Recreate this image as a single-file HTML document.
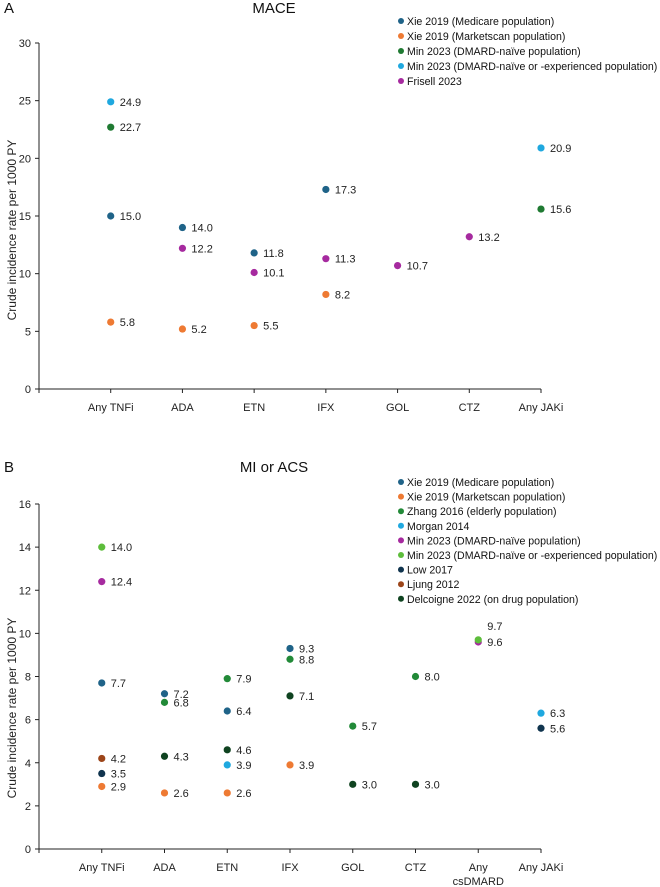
<!DOCTYPE html>
<html><head><meta charset="utf-8"><style>
html,body{margin:0;padding:0;background:#fff;}
svg{display:block;font-family:"Liberation Sans",sans-serif;}
</style></head><body>
<svg id="fig" width="660" height="887" viewBox="0 0 660 887" xmlns="http://www.w3.org/2000/svg"></svg>
<script>
// ---- Panel A data ----
const catsA = ["Any TNFi","ADA","ETN","IFX","GOL","CTZ","Any JAKi"];
const seriesNamesA = ["Xie 2019 (Medicare population)","Xie 2019 (Marketscan population)","Min 2023 (DMARD-naïve population)","Min 2023 (DMARD-naïve or -experienced population)","Frisell 2023"];
const colorsA = ["#1f6388","#ee7a33","#1f7a32","#1fa8df","#a62a9f"];
const xieMedA = [15.0,14.0,11.8,17.3,null,null,null];
const xieMktA = [5.8,5.2,5.5,8.2,null,null,null];
const minNaiveA = [22.7,null,null,null,null,null,15.6];
const minExpA = [24.9,null,null,null,null,null,20.9];
const frisellA = [null,12.2,10.1,11.3,10.7,13.2,null];
const ticksA = [0,5,10,15,20,25,30];

// ---- Panel B data ----
const catsB = ["Any TNFi","ADA","ETN","IFX","GOL","CTZ","Any|csDMARD","Any JAKi"];
const seriesNamesB = ["Xie 2019 (Medicare population)","Xie 2019 (Marketscan population)","Zhang 2016 (elderly population)","Morgan 2014","Min 2023 (DMARD-naïve population)","Min 2023 (DMARD-naïve or -experienced population)","Low 2017","Ljung 2012","Delcoigne 2022 (on drug population)"];
const colorsB = ["#1f6388","#ee7a33","#228a38","#1fa8df","#a62a9f","#5dbd3b","#10344e","#9c4519","#0f4320"];
const xieMedB = [7.7,7.2,6.4,9.3,null,null,null,null];
const xieMktB = [2.9,2.6,2.6,3.9,null,null,null,null];
const zhangB = [null,6.8,7.9,8.8,5.7,8.0,null,null];
const morganB = [null,null,3.9,null,null,null,null,6.3];
const minNaiveB = [12.4,null,null,null,null,null,9.6,null];
const minExpB = [14.0,null,null,null,null,null,9.7,null];
const lowB = [3.5,null,null,null,null,null,null,5.6];
const ljungB = [4.2,null,null,null,null,null,null,null];
const delcoigneB = [null,4.3,4.6,7.1,3.0,3.0,null,null];
const ticksB = [0,2,4,6,8,10,12,14,16];

const NS="http://www.w3.org/2000/svg";
const svg=document.getElementById('fig');
function mk(tag,attrs,parent,text){const e=document.createElementNS(NS,tag);for(const k in attrs)e.setAttribute(k,attrs[k]);if(text!==undefined)e.textContent=text;(parent||svg).appendChild(e);return e;}

function panel(cfg){
  const g=mk('g',{});
  
  
  const x0=39,x1=541;
  const n=cfg.cats.length;
  const step=(x1-x0)/n;
  const xs=i=>x0+(i+1)*step;
  const ys=v=>cfg.y0+(cfg.yTop-cfg.y0)*(v/cfg.yMax);
  // panel letter & title
  const L=mk('text',{x:4,y:cfg.titleY,'font-size':15,fill:'#111'},g,cfg.letter);
  
  
  const T=mk('text',{x:274,y:cfg.titleY,'font-size':15,'text-anchor':'middle',fill:'#111'},g,cfg.title);
  
  
  // axes
  const ya=mk('line',{x1:x0,y1:cfg.yTop,x2:x0,y2:cfg.y0,stroke:'#222','stroke-width':1},g);
  
  
  const xa=mk('line',{x1:x0,y1:cfg.y0,x2:x1,y2:cfg.y0,stroke:'#222','stroke-width':1},g);
  
  
  cfg.ticks.forEach(t=>{
    const y=ys(t);
    mk('line',{x1:x0-4,y1:y,x2:x0,y2:y,stroke:'#222'},g);
    const tl=mk('text',{x:x0-8,y:y+4,'font-size':11,'text-anchor':'end',fill:'#222'},g,String(t));
    
    
  });
  mk('line',{x1:x0,y1:cfg.y0,x2:x0,y2:cfg.y0+4,stroke:'#222'},g);
  cfg.cats.forEach((c,i)=>{
    const x=xs(i);
    mk('line',{x1:x,y1:cfg.y0,x2:x,y2:cfg.y0+4,stroke:'#222'},g);
    c.split('|').forEach((part,k)=>{
      const cl=mk('text',{x:x,y:cfg.y0+22+k*14,'font-size':11,'text-anchor':'middle',fill:'#222'},g,part);
      
      
    });
  });
  const yt=mk('text',{transform:`translate(16,${cfg.yTitleY}) rotate(-90)`,'font-size':12,'text-anchor':'middle',fill:'#222'},g,'Crude incidence rate per 1000 PY');
  
  
  // series
  cfg.series.forEach((arr,s)=>{
    arr.forEach((v,i)=>{
      if(v===null)return;
      const cx=xs(i),cy=ys(v);
      const d=mk('circle',{cx:cx,cy:cy,r:3.6,fill:cfg.colors[s]},g);
      
      
      const dy=(cfg.labelUp&&cfg.labelUp(s,i))?-14:0;
      const lb=mk('text',{x:cx+9,y:cy+4+dy,'font-size':11,fill:'#222'},g,v.toFixed(1));
      
      
    });
  });
  // legend
  cfg.names.forEach((nm,s)=>{
    const y=cfg.legY+s*cfg.legStep;
    const c=mk('circle',{cx:401,cy:y,r:3,fill:cfg.colors[s]},g);
    
    
    const t=mk('text',{x:407,y:y+4,'font-size':10.6,fill:'#111'},g,nm);
    
    
  });
}

panel({id:'mace',letter:'A',title:'MACE',titleY:13,yTop:43,y0:389,yMax:30,ticks:ticksA,cats:catsA,
  series:[xieMedA,xieMktA,minNaiveA,minExpA,frisellA],colors:colorsA,names:seriesNamesA,
  legY:21,legStep:15,yTitleY:230});
panel({id:'mi-acs',letter:'B',title:'MI or ACS',titleY:472,yTop:504,y0:849,yMax:16,ticks:ticksB,cats:catsB,
  series:[xieMedB,xieMktB,zhangB,morganB,minNaiveB,minExpB,lowB,ljungB,delcoigneB],colors:colorsB,names:seriesNamesB,
  legY:482,legStep:14.6,yTitleY:708,labelUp:(s,i)=>s===5&&i===6});
</script>
</body></html>
